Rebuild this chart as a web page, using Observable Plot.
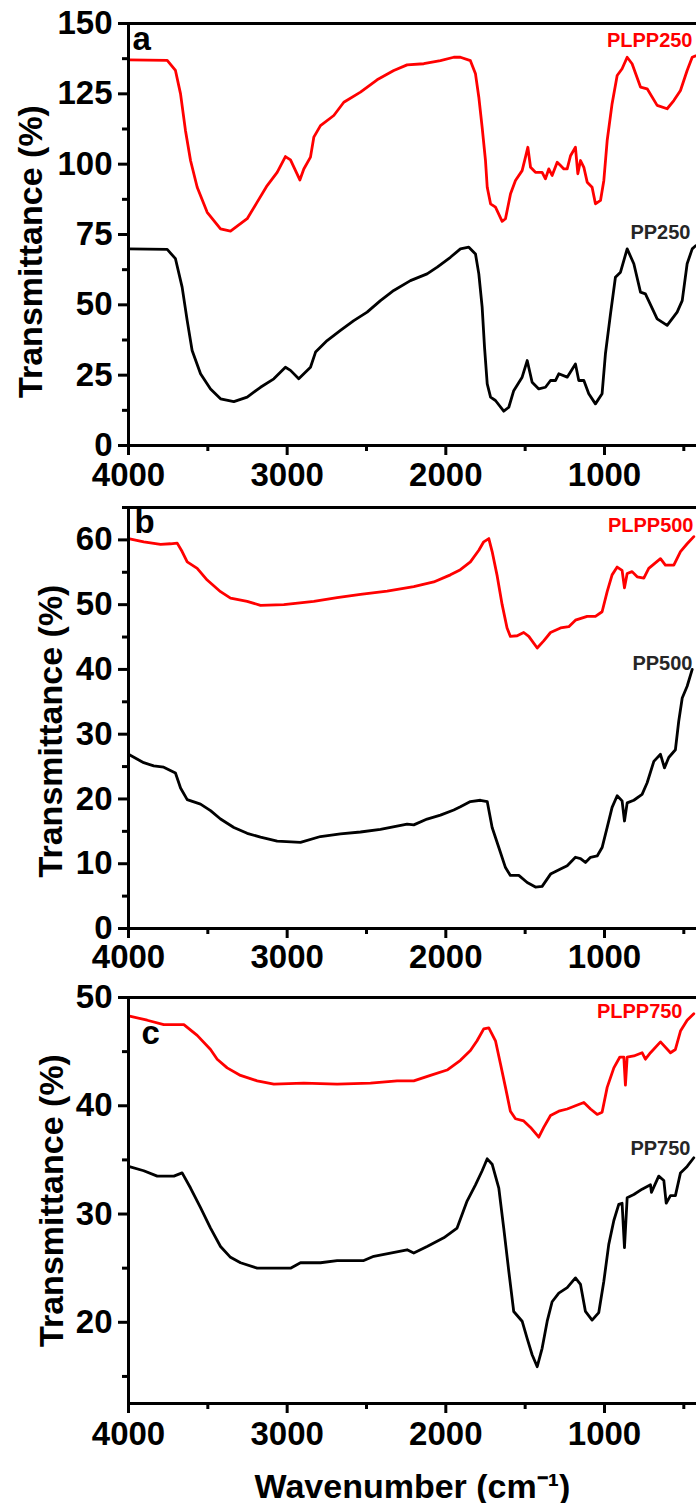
<!DOCTYPE html>
<html><head><meta charset="utf-8">
<script src="https://cdn.jsdelivr.net/npm/d3@7"></script>
<script src="https://cdn.jsdelivr.net/npm/@observablehq/plot@0.6"></script>
<style>body{margin:0;background:#fff} #chart svg{display:block}</style>
</head><body><div id="chart"></div>
<script>
// ---- data (wavenumber cm-1, transmittance %) ----
const plpp250_w = [4000,3756,3704,3672,3641,3609,3567,3504,3420,3357,3252,3189,3126,3063,3011,2979,2920,2895,2853,2832,2790,2706,2643,2538,2433,2328,2244,2139,2034,1950,1908,1845,1813,1792,1771,1750,1739,1718,1687,1645,1624,1592,1561,1519,1498,1483,1466,1435,1393,1372,1351,1330,1298,1277,1256,1235,1214,1183,1168,1151,1130,1109,1078,1057,1025,1004,983,952,920,889,857,826,773,731,668,605,563,521,479,447,425];
const plpp250_t = [137.1,136.9,133.3,125,112,101.3,91.8,82.9,77,76.2,80.6,86.5,92.4,97.1,102.7,101.5,94.4,98.3,102.5,109.6,113.7,117.3,122,125.6,130,133.3,135.3,135.7,136.8,138,138,136.8,132.1,123.8,113.1,101.3,91.8,85.9,84.7,79.7,80.6,89.5,94.2,97.7,102.5,106,98.9,97.1,97.1,94.8,98.3,96,100.7,99.5,98.3,98.3,103,106,96.6,101.3,98.9,93.6,91.8,85.9,87.1,94.2,108.4,121.5,131.5,133.9,138,135.7,127.4,126.8,120.9,119.7,122.6,126.2,133.3,138,138.5];
const pp250_w = [4000,3756,3704,3662,3630,3599,3546,3483,3420,3336,3252,3168,3084,3011,2979,2927,2853,2821,2748,2664,2580,2496,2412,2328,2223,2118,2054,1971,1908,1855,1813,1792,1771,1756,1739,1718,1687,1635,1603,1572,1519,1487,1456,1414,1372,1340,1309,1288,1235,1183,1162,1130,1099,1057,1015,994,962,931,899,857,815,773,742,668,605,542,510,479,447,425];
const pp250_t = [69.9,69.7,66.4,56.3,44.4,33.8,25.5,20.1,16.6,15.6,17.2,20.7,23.7,27.8,26.7,23.7,27.8,33.2,37.3,40.9,44.4,47.4,51.5,55.1,58.6,61,63.4,66.9,69.9,70.5,68.1,61,49.2,34.9,21.9,17.2,16,12.2,13.6,19.5,24.3,30.2,22.5,20.1,20.7,23.1,23.1,25.5,24.3,29,23.1,23.1,18.4,14.8,18.4,32.6,46.8,59.8,61.6,69.9,64.6,54.5,53.9,45,42.7,47.4,51.5,64.6,69.9,71];

const plpp500_w = [4000,3904,3798,3735,3693,3662,3630,3567,3504,3420,3357,3252,3168,3021,2832,2685,2538,2370,2202,2076,1971,1908,1845,1792,1761,1729,1708,1676,1645,1614,1593,1550,1509,1477,1424,1383,1340,1277,1225,1183,1109,1057,1015,983,952,920,889,874,857,826,794,752,721,647,616,563,521,479,437];
const plpp500_t = [60.2,59.7,59.3,59.4,59.5,58.2,56.6,55.6,53.8,52,51,50.5,49.9,50,50.5,51.1,51.6,52.1,52.8,53.5,54.6,55.4,56.6,58.4,59.7,60.2,58.2,54.4,50,46.4,45.1,45.2,45.7,45.1,43.3,44.4,45.7,46.4,46.6,47.6,48.2,48.2,48.9,52,54.6,55.8,55.3,52.6,54.8,55.1,54.3,54.1,55.6,57.1,56.1,56.1,58.2,59.4,60.5];
const pp500_w = [4000,3904,3841,3778,3704,3672,3630,3546,3483,3420,3336,3252,3168,3063,2916,2790,2664,2538,2412,2244,2202,2118,2034,1950,1908,1845,1782,1739,1708,1666,1624,1593,1540,1487,1435,1393,1340,1277,1235,1183,1151,1120,1088,1046,1015,983,952,920,889,874,857,815,763,731,689,647,622,595,553,532,510,479,447];
const pp500_t = [26.9,25.6,25.1,24.9,24,21.7,19.9,19.2,18.2,16.9,15.6,14.7,14.1,13.5,13.3,14.2,14.6,14.9,15.3,16.1,16,16.9,17.5,18.3,18.8,19.6,19.8,19.6,15.6,12.5,9.4,8.2,8.2,7.1,6.4,6.5,8.4,9.2,9.7,11,10.8,10.2,11,11.2,12.5,15.6,18.7,20.5,19.7,16.6,19.4,19.8,20.7,22.5,25.8,26.9,24.8,26.4,27.6,32,35.6,37.4,40];

const plpp750_w = [4000,3882,3778,3651,3567,3483,3441,3378,3294,3189,3084,2895,2685,2475,2307,2202,2097,1992,1908,1845,1803,1761,1729,1687,1656,1624,1593,1561,1509,1466,1414,1383,1340,1288,1235,1183,1130,1088,1046,1015,983,941,903,878,868,857,815,763,742,710,647,584,553,521,479,437];
const plpp750_t = [48.3,47.9,47.5,47.5,46.5,45.2,44.3,43.5,42.8,42.3,42,42.1,42,42.1,42.3,42.3,42.8,43.3,44.2,45.1,46,47.1,47.2,46,43.9,41.7,39.5,38.8,38.6,38,37.1,38,39.1,39.5,39.7,40,40.3,39.7,39.2,39.4,41.7,43.5,44.5,44.5,41.9,44.5,44.6,44.9,44.3,44.9,45.9,44.9,45.2,46.9,47.9,48.5];
const pp750_w = [4000,3904,3819,3714,3662,3609,3546,3483,3420,3357,3294,3189,2979,2916,2790,2685,2517,2454,2244,2202,2118,2013,1929,1866,1813,1771,1739,1708,1666,1635,1603,1572,1519,1487,1456,1424,1393,1361,1330,1288,1235,1183,1151,1120,1078,1036,1004,973,941,910,889,874,857,815,763,710,704,658,626,611,584,553,521,479,437];
const pp750_t = [34.4,34,33.5,33.5,33.8,32.4,30.6,28.7,27,26,25.5,25,25,25.5,25.5,25.7,25.7,26.1,26.7,26.4,27,27.8,28.7,31.2,32.7,34,35.1,34.6,32.4,28.7,24.7,21,20.1,18.5,17,15.9,17.6,20.1,21.9,22.7,23.2,24.1,23.5,21,20.2,20.9,23.8,27.2,29.4,30.9,31,26.9,31.5,31.8,32.3,32.7,32,33.5,33.1,31,31.7,31.7,33.8,34.4,35.2];

const xMajor = [4000, 3000, 2000, 1000];
const xMinor = [3500, 2500, 1500, 500];
const ticksA = [0, 25, 50, 75, 100, 125, 150];
const minorA = [12.5, 37.5, 62.5, 87.5, 112.5, 137.5];
const ticksB = [0, 10, 20, 30, 40, 50, 60];
const minorB = [5, 15, 25, 35, 45, 55, 65];
const ticksC = [20, 30, 40, 50];
const minorC = [15, 25, 35, 45];

const rows = (w, t) => w.map((x, i) => ({w: x, t: t[i]}));
const FONT = "'Liberation Sans', Arial, Helvetica, sans-serif";

function panel(o) {
  const [y0, y1] = o.yDomain;
  const marks = [
    Plot.line(rows(o.redW, o.redT), {x: "w", y: "t", stroke: "#ff0000", strokeWidth: 2.8}),
    Plot.line(rows(o.blackW, o.blackT), {x: "w", y: "t", stroke: "#000", strokeWidth: 2.8}),
    Plot.ruleY([y1], {stroke: "#000", strokeWidth: 3}),
    Plot.ruleY([y0], {stroke: "#000", strokeWidth: 3}),
    Plot.ruleX([4000], {stroke: "#000", strokeWidth: 3}),
    Plot.axisY(o.yMajor, {tickSize: 10, tickPadding: 6, fontSize: 33, fontWeight: "bold", strokeWidth: 3, label: null, tickFormat: "d"}),
    Plot.axisY(o.yMinor, {tickSize: 6, strokeWidth: 3, fill: "none", label: null}),
    Plot.axisX(xMajor, {tickSize: 10, tickPadding: o.xPad, fontSize: 33, fontWeight: "bold", strokeWidth: 3, label: null, tickFormat: "d"}),
    Plot.axisX(xMinor, {tickSize: 6, strokeWidth: 3, fill: "none", label: null}),
    Plot.text(["Transmittance (%)"], {text: d => d, frameAnchor: "left", dx: o.ylDx, dy: o.ylDy, rotate: -90, fontSize: 34, fontWeight: "bold", textAnchor: "middle", lineAnchor: "middle"}),
    Plot.text([o.letter], {text: d => d, frameAnchor: "top-left", dx: o.letDx, dy: o.letDy, fontSize: 33, fontWeight: "bold", textAnchor: "start", lineAnchor: "top"}),
    Plot.text([o.redLabel], {text: d => d, frameAnchor: "top-right", dx: o.rDx, dy: o.rDy, fontSize: 20, fontWeight: "bold", fill: "#ff0000", textAnchor: "end", lineAnchor: "top"}),
    Plot.text([o.blackLabel], {text: d => d, frameAnchor: "top-right", dx: o.bDx, dy: o.bDy, fontSize: 20, fontWeight: "bold", fill: "#262626", textAnchor: "end", lineAnchor: "top"})
  ];
  if (o.xTitle) {
    marks.push(Plot.text([o.xTitle], {text: d => d, frameAnchor: "bottom", dy: o.xtDy, fontSize: 34, fontWeight: "bold", textAnchor: "middle", lineAnchor: "top"}));
  }
  return Plot.plot({
    width: 696,
    height: o.height,
    marginLeft: 128,
    marginRight: 0,
    marginTop: o.mt,
    marginBottom: o.mb,
    style: {fontFamily: FONT, background: "#fff", overflow: "visible", color: "#000"},
    x: {domain: [4000, 420]},
    y: {domain: o.yDomain},
    marks
  });
}

const chart = document.getElementById("chart");
chart.append(panel({
  redW: plpp250_w, redT: plpp250_t, blackW: pp250_w, blackT: pp250_t,
  yDomain: [0, 150], yMajor: ticksA, yMinor: minorA,
  height: 480, mt: 23, mb: 35, xPad: 7,
  ylDx: -97, ylDy: 17,
  letter: "a", letDx: 4, letDy: 3,
  redLabel: "PLPP250", rDx: -4, rDy: 9,
  blackLabel: "PP250", bDx: -6, bDy: 201
}));
chart.append(panel({
  redW: plpp500_w, redT: plpp500_t, blackW: pp500_w, blackT: pp500_t,
  yDomain: [0, 65], yMajor: ticksB, yMinor: minorB,
  height: 480, mt: 27, mb: 32, xPad: 6,
  ylDx: -77, ylDy: 13,
  letter: "b", letDx: 6, letDy: 2,
  redLabel: "PLPP500", rDx: -3, rDy: 10,
  blackLabel: "PP500", bDx: -4, bDy: 148
}));
chart.append(panel({
  redW: plpp750_w, redT: plpp750_t, blackW: pp750_w, blackT: pp750_t,
  yDomain: [12.5, 50], yMajor: ticksC, yMinor: minorC,
  height: 543, mt: 37, mb: 100, xPad: 8,
  ylDx: -76, ylDy: 0,
  letter: "c", letDx: 13, letDy: 23,
  redLabel: "PLPP750", rDx: -14, rDy: 6,
  blackLabel: "PP750", bDx: -6, bDy: 143,
  xTitle: "Wavenumber (cm⁻¹)", xtDy: 70
}));
</script>
</body></html>
